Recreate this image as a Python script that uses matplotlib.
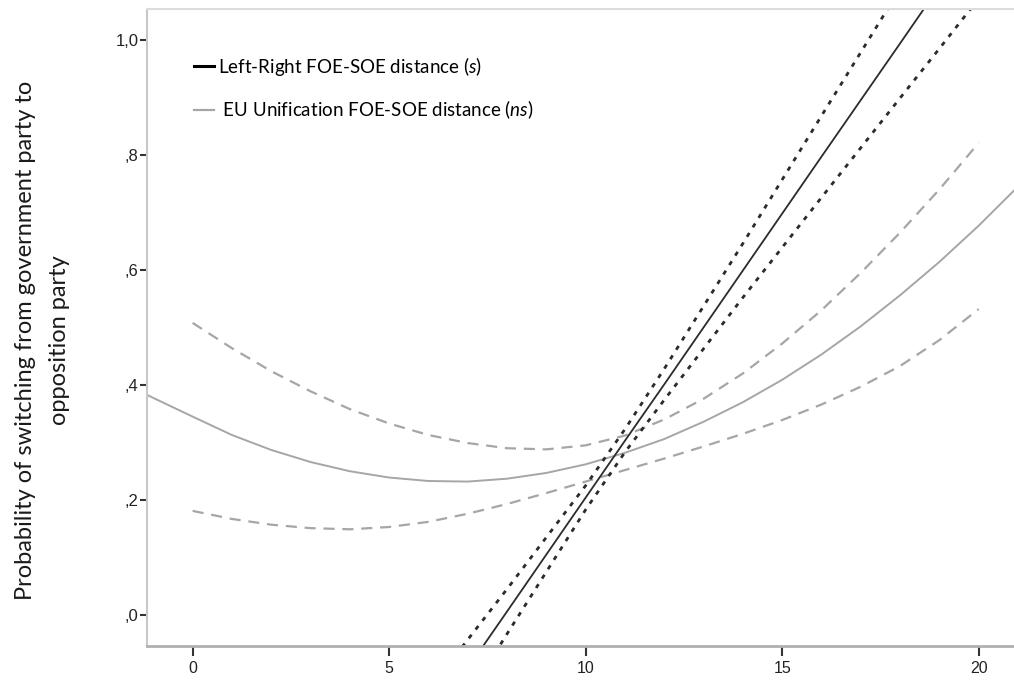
import numpy as np
import matplotlib.pyplot as plt
from matplotlib.lines import Line2D

plt.rcParams['font.family'] = ['Liberation Sans', 'DejaVu Sans']
plt.rcParams['mathtext.fontset'] = 'custom'
plt.rcParams['mathtext.rm'] = 'Lato'
plt.rcParams['mathtext.it'] = 'Lato:italic'

# Left-Right FOE-SOE distance: predicted probability and confidence band
lr_x = [6.0, 6.5, 8, 10, 11, 12, 14, 16, 18, 19, 20]
lr_fit = [-0.191, -0.142, 0.006, 0.204, 0.303, 0.401, 0.599, 0.797, 0.994, 1.093, 1.192]
lr_upper = [-0.130, -0.087, 0.045, 0.225, 0.323, 0.428, 0.646, 0.868, 1.089, 1.201, 1.312]
lr_lower = [-0.255, -0.197, -0.033, 0.183, 0.283, 0.374, 0.552, 0.726, 0.899, 0.985, 1.072]

# EU Unification FOE-SOE distance: predicted probability
eu_x = [-1.2, 0, 1, 2, 3, 4, 5, 6, 7, 8, 9, 10, 11, 12, 13, 14, 15, 16, 17, 18, 19, 20, 21]
eu_fit = [0.384, 0.345, 0.313, 0.287, 0.266, 0.250, 0.239, 0.233, 0.232, 0.237, 0.247,
          0.262, 0.282, 0.306, 0.336, 0.370, 0.409, 0.453, 0.502, 0.556, 0.614, 0.677, 0.745]

# EU Unification confidence band
eu_ci_x = list(range(0, 21))
eu_upper = [0.508, 0.464, 0.424, 0.389, 0.358, 0.333, 0.313, 0.299, 0.290, 0.288, 0.295,
            0.312, 0.340, 0.376, 0.420, 0.472, 0.530, 0.595, 0.665, 0.740, 0.821]
eu_lower = [0.181, 0.167, 0.157, 0.151, 0.149, 0.153, 0.162, 0.176, 0.193, 0.212, 0.232,
            0.252, 0.272, 0.293, 0.315, 0.339, 0.366, 0.397, 0.433, 0.478, 0.532]

x_ticks = [0, 5, 10, 15, 20]
y_ticks = [0.0, 0.2, 0.4, 0.6, 0.8, 1.0]
y_ticklabels = [',0', ',2', ',4', ',6', ',8', '1,0']

dark = '#2b2b2b'
grey = '#a6a6a6'

fig = plt.figure(figsize=(10.14, 6.81), dpi=100)
ax = fig.add_axes([0.145, 0.0514, 0.855, 0.9354])

# EU unification curves
ax.plot(eu_x, eu_fit, color=grey, lw=1.4)
ax.plot(eu_ci_x, eu_upper, color=grey, lw=1.6, dashes=(5, 3.5))
ax.plot(eu_ci_x, eu_lower, color=grey, lw=1.6, dashes=(5, 3.5))

# Left-right curves
ax.plot(lr_x, lr_fit, color=dark, lw=1.3)
ax.plot(lr_x, lr_upper, color=dark, lw=2.0, dashes=(1.6, 2.4))
ax.plot(lr_x, lr_lower, color=dark, lw=2.0, dashes=(1.6, 2.4))

ax.set_xlim(-1.16, 20.9)
ax.set_ylim(-0.054, 1.054)
ax.set_xticks(x_ticks)
ax.set_yticks(y_ticks)
ax.set_yticklabels(y_ticklabels)

ax.tick_params(axis='x', direction='out', length=7.5, width=1.5, color='#333333',
               labelsize=11.5, labelcolor='#222222', pad=3)
ax.tick_params(axis='y', direction='out', length=5, width=1.5, color='#333333',
               labelsize=12, labelcolor='#222222', pad=1)

ax.spines['right'].set_visible(False)
ax.spines['left'].set_color('#c8c8c8')
ax.spines['left'].set_linewidth(1.5)
ax.spines['top'].set_color('#dcdcdc')
ax.spines['top'].set_linewidth(1.5)
ax.spines['bottom'].set_color('#b0b0b0')
ax.spines['bottom'].set_linewidth(2)

handles = [Line2D([], [], color='black', lw=2.2),
           Line2D([], [], color=grey, lw=1.6)]
labels = [r'Left-Right FOE-SOE distance $\mathit{(s)}$',
          r' EU Unification FOE-SOE distance $\mathit{(ns)}$']
leg = ax.legend(handles, labels, loc='upper left', bbox_to_anchor=(0.054, 0.928),
                frameon=False, handlelength=1.07, handletextpad=0.2, labelspacing=1.1,
                prop={'family': 'Lato', 'size': 13.5}, borderaxespad=0, borderpad=0)

fig.text(0.042, 0.5, 'Probability of switching from government party to\nopposition party',
         rotation=90, ha='center', va='center', family='Lato', fontsize=17,
         linespacing=1.75, color='#1a1a1a')

fig.savefig('out.png', dpi=100)
